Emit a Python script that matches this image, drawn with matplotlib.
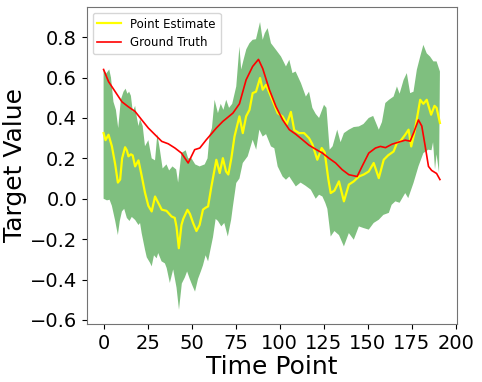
import numpy as np
import matplotlib
matplotlib.use('Agg')
import matplotlib.pyplot as plt
from matplotlib.ticker import MultipleLocator

# ground truth (red)
truth_t = [0, 2.8, 6.6, 10.4, 14.1, 17.9, 21.7, 25.4, 29.2, 33, 36.7, 40.5, 44.2, 48, 51.7, 54.6, 58.3,
           64, 67.7, 73.4, 77.1, 80.9, 84.6, 87.9, 90.3, 94.1, 97.8, 101.6, 105.4, 109, 112.9, 116.6,
           120.4, 124.2, 128, 131.7, 135.4, 139.2, 143.9, 146.7, 150.5, 154.3, 157.1, 160, 163.7, 167.4,
           171.2, 174, 175.9, 178.7, 180.6, 182.5, 184.4, 186.2, 189, 190.9]
truth_v = [0.64, 0.58, 0.53, 0.48, 0.455, 0.432, 0.39, 0.35, 0.317, 0.284, 0.272, 0.251, 0.226, 0.177,
           0.243, 0.251, 0.292, 0.35, 0.383, 0.424, 0.47, 0.589, 0.655, 0.69, 0.645, 0.54, 0.457, 0.391,
           0.342, 0.32, 0.292, 0.265, 0.245, 0.226, 0.2, 0.177, 0.144, 0.119, 0.11, 0.16, 0.226, 0.251,
           0.259, 0.253, 0.27, 0.28, 0.29, 0.285, 0.325, 0.39, 0.36, 0.262, 0.16, 0.14, 0.125, 0.095]

# point estimate (yellow)
est_t = [0, 1.1, 2.8, 4.7, 6.6, 8.1, 9.4, 10.5, 12.2, 13.2, 14.1, 15.5, 16.5, 17.9, 19.8, 21.7, 23.5,
         25.4, 27.3, 29.2, 31, 33, 35.7, 38.6, 40.4, 41.4, 42.7, 44.2, 45.2, 47.6, 49, 50.8, 52.7, 54.5,
         56.4, 57.8, 59.3, 61.2, 64, 65.9, 67.7, 69.5, 70.8, 72.5, 74.3, 77.1, 79, 80.9, 82.8, 84.6, 86.5,
         88.8, 90.3, 92.2, 95, 98.8, 101.6, 104, 106.3, 108.2, 111, 113.8, 116.6, 118.5, 121.3, 123.8,
         125.5, 127.5, 128.9, 131, 133.6, 136.4, 139.2, 142, 144.9, 147.7, 150.5, 153.3, 156.2, 159,
         161.5, 164.6, 166.5, 168.4, 171.2, 173.1, 174.6, 176.5, 179.7, 181.5, 183.4, 185.9, 187.8,
         189, 190.9]
est_v = [0.325, 0.29, 0.317, 0.26, 0.17, 0.08, 0.095, 0.2, 0.255, 0.24, 0.21, 0.22, 0.215, 0.16, 0.19,
         0.11, 0.03, -0.035, -0.063, 0.011, -0.02, -0.054, -0.06, -0.088, -0.095, -0.14, -0.245, -0.13,
         -0.1, -0.055, -0.075, -0.12, -0.16, -0.13, -0.054, -0.045, -0.038, 0.061, 0.193, 0.127, 0.201,
         0.135, 0.12, 0.2, 0.308, 0.408, 0.325, 0.408, 0.44, 0.523, 0.53, 0.598, 0.54, 0.564, 0.506,
         0.424, 0.407, 0.37, 0.43, 0.34, 0.325, 0.325, 0.3, 0.27, 0.193, 0.251, 0.23, 0.1, 0.028, 0.04,
         0.086, -0.013, 0.07, 0.086, 0.11, 0.12, 0.135, 0.177, 0.102, 0.193, 0.215, 0.234, 0.276, 0.285,
         0.317, 0.342, 0.259, 0.33, 0.49, 0.47, 0.49, 0.416, 0.46, 0.45, 0.375]

# uncertainty band, upper edge
upper_t = [0, 1.5, 3.2, 4.2, 5.6, 7, 8.3, 9.8, 11.3, 12.5, 13.5, 14.5, 15.5, 16.6, 17.9, 18.8, 19.8,
           20.7, 22.2, 23.5, 25.4, 27.3, 29.2, 30.5, 32, 33.5, 35.7, 37.2, 39.1, 41.2, 42.3, 44.2, 46.6,
           48, 49.9, 52, 54.5, 57.4, 59, 60.2, 61.5, 63, 64.9, 66.5, 68, 69.6, 71.2, 73, 75.3, 77.1, 78.1,
           79.5, 81, 82.8, 84.6, 86.5, 88.8, 90.3, 91.5, 93.1, 95, 97.8, 100.7, 103.5, 105.4, 107.2, 109,
           112, 114.8, 116.6, 118.5, 120.4, 122.3, 125.1, 126.5, 128.3, 130, 132.6, 134.5, 136.4, 139.2,
           142, 144.9, 147.5, 150.5, 153, 156.2, 158, 159.9, 162, 164.6, 166.5, 168, 170.3, 172.1, 174,
           175.9, 177.8, 179.7, 181.5, 183.4, 185.3, 187.2, 189, 190.9]
upper_v = [0.64, 0.62, 0.64, 0.6, 0.48, 0.44, 0.35, 0.49, 0.53, 0.545, 0.52, 0.53, 0.51, 0.43, 0.46,
           0.407, 0.36, 0.395, 0.36, 0.26, 0.29, 0.2, 0.19, 0.32, 0.24, 0.15, 0.17, 0.14, 0.16, 0.145,
           0.08, 0.226, 0.24, 0.2, 0.2, 0.17, 0.16, 0.17, 0.2, 0.317, 0.35, 0.49, 0.424, 0.47, 0.44, 0.49,
           0.45, 0.47, 0.556, 0.754, 0.64, 0.69, 0.74, 0.77, 0.787, 0.79, 0.875, 0.787, 0.82, 0.845, 0.77,
           0.738, 0.704, 0.655, 0.688, 0.622, 0.63, 0.573, 0.506, 0.53, 0.45, 0.42, 0.4, 0.465, 0.45,
           0.243, 0.26, 0.342, 0.28, 0.325, 0.342, 0.355, 0.358, 0.37, 0.4, 0.41, 0.342, 0.38, 0.474,
           0.49, 0.506, 0.556, 0.52, 0.589, 0.622, 0.523, 0.53, 0.639, 0.704, 0.762, 0.72, 0.704, 0.68,
           0.68, 0.63]

# uncertainty band, lower edge
lower_t = [0, 1.9, 3.4, 4.7, 6.6, 8.1, 9.2, 10.4, 11.7, 13.2, 14.7, 16, 17.9, 19.8, 20.7, 21.6, 23.5,
           24.5, 26.4, 27.3, 28.6, 30.1, 31, 32.9, 34.8, 35.8, 37.6, 39.5, 41.4, 42.8, 44.4, 46.1, 47.4,
           48.9, 50.4, 51.9, 53.6, 55.2, 56.4, 57.9, 59.3, 60.6, 62.1, 63.6, 64.9, 66.8, 68.5, 70.5, 72.4,
           73.4, 75.3, 77.1, 79, 81.8, 84.6, 86.6, 88.4, 90.3, 92.2, 95, 96.9, 98.8, 101.6, 103.5, 105.4,
           109.1, 111.8, 114.5, 117.6, 120.4, 122.3, 124.2, 125.8, 127, 128.9, 131, 133.6, 136.4, 139.2,
           142, 144.9, 147.5, 150.5, 153.3, 156.2, 158.8, 161.9, 163.5, 165.6, 168, 171.2, 172.9, 175.9,
           178.7, 181.5, 184.3, 186.1, 187, 188.1, 189, 190.4]
lower_v = [0.0, -0.008, -0.005, -0.035, -0.11, -0.18, -0.11, -0.063, -0.05, -0.095, -0.11, -0.09,
           -0.105, -0.13, -0.12, -0.17, -0.252, -0.29, -0.318, -0.335, -0.28, -0.295, -0.269, -0.31,
           -0.32, -0.343, -0.417, -0.35, -0.44, -0.55, -0.42, -0.39, -0.36, -0.397, -0.43, -0.46, -0.397,
           -0.36, -0.33, -0.28, -0.31, -0.254, -0.19, -0.1, -0.11, -0.137, -0.12, -0.187, -0.104, -0.038,
           0.078, 0.1, 0.177, 0.21, 0.292, 0.243, 0.342, 0.308, 0.32, 0.259, 0.25, 0.16, 0.11, 0.094,
           0.11, 0.061, 0.08, 0.065, 0.045, 0.0, 0.02, 0.011, -0.02, -0.05, -0.187, -0.16, -0.18, -0.236,
           -0.17, -0.203, -0.137, -0.145, -0.153, -0.12, -0.104, -0.08, -0.07, -0.03, -0.013, -0.02,
           0.028, 0.003, 0.078, 0.16, 0.226, 0.243, 0.24, 0.28, 0.144, 0.22, 0.127]

fig = plt.figure(figsize=(4.82, 3.82), dpi=100)
ax = fig.add_axes([0.18, 0.152, 0.768, 0.83])

band_x = np.concatenate([upper_t, lower_t[::-1]])
band_y = np.concatenate([upper_v, lower_v[::-1]])
ax.fill(band_x, band_y, color='green', alpha=0.5, linewidth=0)
ax.plot(est_t, est_v, color='yellow', linewidth=1.6, label='Point Estimate')
ax.plot(truth_t, truth_v, color='red', linewidth=1.2, label='Ground Truth')

ax.set_xticks([0, 25, 50, 75, 100, 125, 150, 175, 200])
ax.yaxis.set_major_locator(MultipleLocator(0.2))
ax.set_xlim(-9.55, 200.55)
ax.set_ylim(-0.62, 0.95)
ax.tick_params(labelsize=14)
ax.set_xlabel('Time Point', fontsize=18, labelpad=2)
ax.set_ylabel('Target Value', fontsize=18, labelpad=2)
for s in ax.spines.values():
    s.set_color('0.45')
ax.legend(loc='upper left', fontsize=8.5)

fig.savefig('out.png', dpi=100)
